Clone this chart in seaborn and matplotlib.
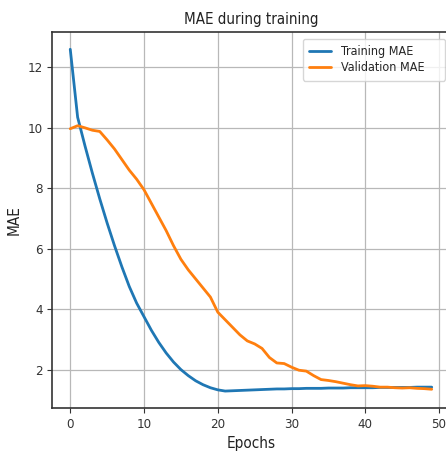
import numpy as np
import pandas as pd
import matplotlib
matplotlib.use("Agg")
import matplotlib.pyplot as plt
import seaborn as sns

# Values
epochs = list(range(50))
train_mae = [12.6, 10.35, 9.4, 8.5, 7.65, 6.85, 6.1, 5.4, 4.75, 4.2,
             3.75, 3.3, 2.9, 2.55, 2.25, 2.0, 1.8, 1.63, 1.5, 1.4,
             1.33, 1.29, 1.30, 1.31, 1.32, 1.33, 1.34, 1.35, 1.36, 1.36,
             1.37, 1.37, 1.38, 1.38, 1.38, 1.39, 1.39, 1.39, 1.40, 1.40,
             1.40, 1.40, 1.41, 1.41, 1.41, 1.41, 1.41, 1.42, 1.42, 1.42]
val_mae = [9.97, 10.07, 10.0, 9.92, 9.88, 9.6, 9.3, 8.95, 8.6, 8.3,
           7.95, 7.5, 7.05, 6.6, 6.1, 5.65, 5.3, 5.0, 4.7, 4.4,
           3.9, 3.65, 3.4, 3.15, 2.95, 2.85, 2.7, 2.4, 2.22, 2.2,
           2.08, 1.98, 1.95, 1.8, 1.67, 1.64, 1.6, 1.55, 1.5, 1.46,
           1.47, 1.45, 1.42, 1.42, 1.40, 1.39, 1.40, 1.38, 1.37, 1.35]

df = pd.DataFrame({
    "epoch": epochs * 2,
    "mae": train_mae + val_mae,
    "series": ["Training MAE"] * len(epochs) + ["Validation MAE"] * len(epochs),
})

sns.set_theme(style="whitegrid")
plt.rcParams["font.family"] = ["DejaVu Sans"]
plt.rcParams["font.stretch"] = "condensed"

fig = plt.figure(figsize=(4.46, 4.53), dpi=100)
# the reference is cropped on the right, so the axes run past the canvas edge
ax = fig.add_axes([0.117, 0.099, 0.8915, 0.83])

sns.lineplot(data=df, x="epoch", y="mae", hue="series",
             palette=["#1f77b4", "#ff7f0e"], linewidth=2, ax=ax)

ax.set_title("MAE during training", fontsize=10.8, color="#222222")
ax.set_xlabel("Epochs", fontsize=11, color="#222222")
ax.set_ylabel("MAE", fontsize=11, color="#222222")
ax.set_xticks([0, 10, 20, 30, 40, 50])
ax.set_yticks([2, 4, 6, 8, 10, 12])
ax.tick_params(axis="both", labelsize=9.5, length=3.5, width=0.8,
               color="#333333", labelcolor="#333333", bottom=True, left=True)
ax.grid(True, color="#b8b8b8", linewidth=0.9)
for s in ax.spines.values():
    s.set_color("#333333")
    s.set_linewidth(1.2)

leg = ax.legend(loc="upper left", bbox_to_anchor=(0.630, 0.868, 0.358, 0.114),
                mode="expand", borderaxespad=0, fontsize=9,
                labelspacing=0.25, borderpad=0.5, handlelength=1.8,
                handletextpad=0.8, frameon=True)
leg.get_frame().set_edgecolor("#cccccc")

fig.savefig("out.png", dpi=100)
